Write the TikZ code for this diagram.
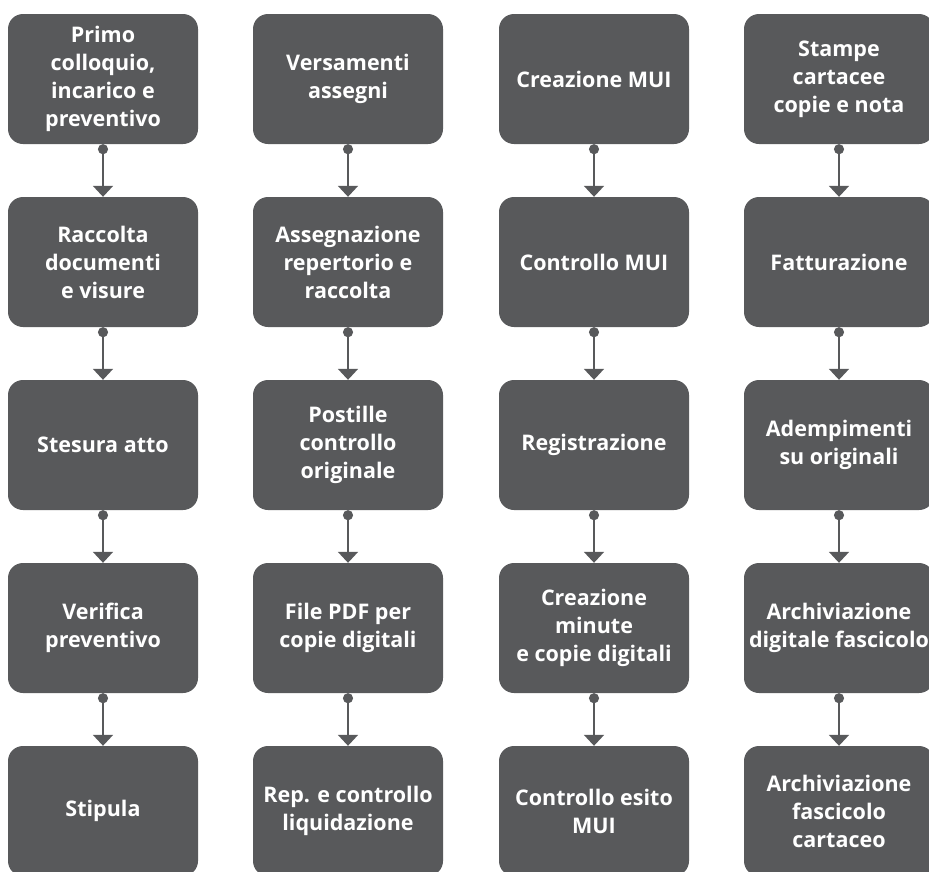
\documentclass[tikz,border=0pt]{standalone}
\usepackage{fontspec}
\setmainfont[Ligatures=NoCommon]{Open Sans}
\usetikzlibrary{arrows.meta}
\definecolor{boxgray}{HTML}{58595B}
\tikzset{
  stepbox/.style={fill=boxgray, rounded corners=15pt, minimum width=190pt, minimum height=130pt,
    inner sep=0pt, text=white, align=center, font=\fontsize{21.5}{28}\selectfont\bfseries},
  link/.style={boxgray, line width=2pt, {Circle[length=10pt]}-{Triangle[width=20pt,length=11pt]}}
}
\begin{document}
\begin{tikzpicture}[x=1pt, y=-1pt]
  \useasboundingbox (0,0) rectangle (929,871);
  \clip (0,0) rectangle (929,871);
  % column 1
  \node[stepbox] (b11) at (103,79) {Primo\\colloquio,\\incarico e\\preventivo};
  \node[stepbox] (b12) at (103,262) {Raccolta\\documenti\\e visure};
  \node[stepbox] (b13) at (103,445) {Stesura atto};
  \node[stepbox] (b14) at (103,628) {Verifica\\preventivo};
  \node[stepbox] (b15) at (103,811) {Stipula};
  % column 2
  \node[stepbox] (b21) at (348,79) {Versamenti\\assegni};
  \node[stepbox] (b22) at (348,262) {Assegnazione\\repertorio e\\raccolta};
  \node[stepbox] (b23) at (348,445) {Postille\\controllo\\originale};
  \node[stepbox] (b24) at (348,628) {File PDF per\\copie digitali};
  \node[stepbox] (b25) at (348,811) {Rep. e controllo\\liquidazione};
  % column 3
  \node[stepbox] (b31) at (594,79) {Creazione MUI};
  \node[stepbox] (b32) at (594,262) {Controllo MUI};
  \node[stepbox] (b33) at (594,445) {Registrazione};
  \node[stepbox] (b34) at (594,628) {Creazione\\minute\\e copie digitali};
  \node[stepbox] (b35) at (594,811) {Controllo esito\\MUI};
  % column 4
  \node[stepbox] (b41) at (839,79) {Stampe\\cartacee\\copie e nota};
  \node[stepbox] (b42) at (839,262) {Fatturazione};
  \node[stepbox] (b43) at (839,445) {Adempimenti\\su originali};
  \node[stepbox] (b44) at (839,628) {Archiviazione\\digitale fascicolo};
  \node[stepbox] (b45) at (839,811) {Archiviazione\\fascicolo\\cartaceo};
  % connectors
  \foreach \c in {1,...,4}
    \foreach \r/\s in {1/2,2/3,3/4,4/5}
      \draw[link] (b\c\r.south) -- (b\c\s.north);
\end{tikzpicture}
\end{document}
